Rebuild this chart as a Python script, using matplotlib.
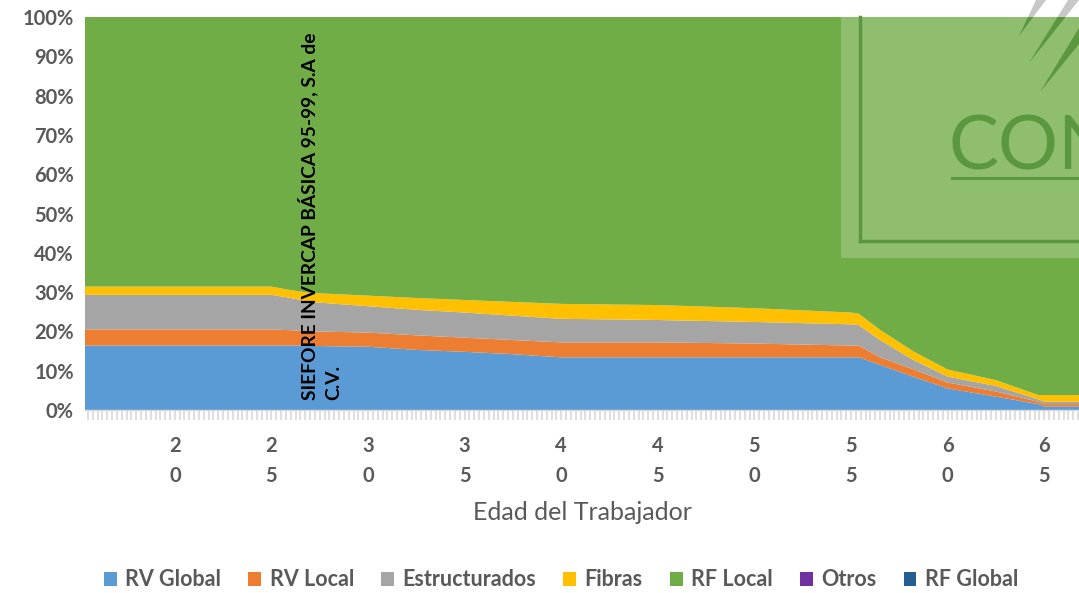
import matplotlib
matplotlib.use("Agg")
import matplotlib.pyplot as plt
from matplotlib.patches import Rectangle, Polygon
from matplotlib.ticker import MultipleLocator, FixedLocator, FuncFormatter
import numpy as np

# ---- data (percent of portfolio by worker age) ----
ages = [15.35, 25.0, 26.0, 27.0, 30.0, 32.5, 35.0, 37.5, 40.0, 45.0, 50.0,
        55.0, 55.4, 56.5, 58.2, 60.0, 62.5, 64.7, 65.0, 66.8]
rv_global = [16.4, 16.4, 16.4, 16.3, 16.1, 15.3, 14.8, 14.2, 13.4, 13.4, 13.4,
             13.4, 13.4, 11.5, 8.5, 5.5, 3.4, 1.5, 0.9, 0.9]
rv_local = [4.1, 4.1, 3.9, 3.7, 3.6, 3.7, 3.6, 3.6, 3.8, 3.8, 3.5,
            3.0, 3.0, 1.9, 1.9, 1.5, 1.3, 0.6, 0.6, 0.6]
estructurados = [8.8, 8.8, 8.2, 7.5, 6.7, 6.5, 6.4, 6.2, 6.0, 5.7, 5.5,
                 5.4, 5.2, 4.4, 2.4, 1.5, 1.4, 0.6, 0.6, 0.6]
fibras = [2.1, 2.1, 2.0, 2.3, 2.7, 3.0, 3.2, 3.5, 3.8, 3.8, 3.5,
          3.0, 2.9, 2.6, 2.2, 1.8, 1.5, 1.1, 1.7, 1.7]
otros = [0.0] * len(ages)
rf_global = [0.0] * len(ages)
rf_local = [100 - (a + b + c + d) for a, b, c, d in zip(rv_global, rv_local, estructurados, fibras)]

series_names = ["RV Global", "RV Local", "Estructurados", "Fibras", "RF Local", "Otros", "RF Global"]
series_colors = ["#5B9BD5", "#ED7D31", "#A5A5A5", "#FFC000", "#70AD47", "#7030A0", "#255E91"]
major_ticks = [20, 25, 30, 35, 40, 45, 50, 55, 60, 65]
y_ticks = [0, 10, 20, 30, 40, 50, 60, 70, 80, 90, 100]

annotation = "SIEFORE INVERCAP BÁSICA 95-99, S.A de\nC.V."
x_title = "Edad del Trabajador"

FONT = ["Lato", "DejaVu Sans"]
GRAY = "#595959"

W, H = 1079, 593
fig = plt.figure(figsize=(W / 100, H / 100), dpi=100)
ax = fig.add_axes([85 / W, 1 - 410 / H, (W - 85) / W, (410 - 17) / H])

data = [rv_global, rv_local, estructurados, fibras, rf_local, otros, rf_global]
ax.stackplot(ages, *data, colors=series_colors, labels=series_names, linewidth=0)

ax.set_xlim(15.35, 66.8)
ax.set_ylim(0, 100)

for s in ["top", "right", "left"]:
    ax.spines[s].set_visible(False)
ax.spines["bottom"].set_color("#D9D9D9")
ax.spines["bottom"].set_linewidth(1.0)

ax.xaxis.set_major_locator(FixedLocator(major_ticks))
ax.xaxis.set_minor_locator(MultipleLocator(0.25))
ax.xaxis.set_major_formatter(FuncFormatter(lambda v, p: "\n".join(str(int(round(v))))))
ax.tick_params(axis="x", which="both", length=7, width=1.2, color="#D9D9D9", pad=12)
ax.tick_params(axis="x", labelsize=14.5, labelcolor=GRAY)
for lab in ax.xaxis.get_majorticklabels():
    lab.set_fontweight("bold")
    lab.set_family(FONT)
    lab.set_linespacing(1.6)

ax.yaxis.set_major_locator(FixedLocator(y_ticks))
ax.yaxis.set_major_formatter(FuncFormatter(lambda v, p: f"{int(v)}%"))
ax.tick_params(axis="y", length=0, labelsize=14.5, labelcolor=GRAY, pad=8)
for lab in ax.yaxis.get_majorticklabels():
    lab.set_fontweight("bold")
    lab.set_family(FONT)

ax.set_xlabel(x_title, fontsize=18, color=GRAY, family=FONT, labelpad=11)

# watermark-like logo overlay
x0 = (841 - 85) / (W - 85)
y0 = (410 - 258) / (410 - 17)
ax.add_patch(Rectangle((x0, y0), 1 - x0, 1 - y0, transform=ax.transAxes,
                       facecolor="white", alpha=0.22, edgecolor="none", zorder=3))
def fx(px):
    return px / W
def fy(py):
    return 1 - py / H
lc = "#5A973F"
fig.add_artist(plt.Line2D([fx(860), fx(860)], [fy(17), fy(241)], color=lc, lw=2.5, zorder=4))
fig.add_artist(plt.Line2D([fx(860), fx(1079)], [fy(241), fy(241)], color=lc, lw=2.5, zorder=4))
con = ax.text(fx(949), fy(169), "CON", fontsize=54, color=lc, family=["Lato", "DejaVu Sans"],
              fontweight="normal", ha="left", va="baseline", zorder=4,
              transform=fig.transFigure, clip_on=True)
fig.add_artist(plt.Line2D([fx(952), fx(1079)], [fy(178), fy(178)], color=lc, lw=2.2, zorder=4))

strokes = [
    [(1036, 0), (1046, 0), (1019, 36)],
    [(1068, 0), (1079, 0), (1029, 63)],
    [(1079, 28), (1079, 44), (1040, 92)],
]
for pts in strokes:
    poly_pts = [(fx(x), fy(y)) for x, y in pts]
    pg = Polygon(poly_pts, closed=True, transform=fig.transFigure, facecolor=lc,
                 edgecolor="none", zorder=5)
    fig.add_artist(pg)
    pg.set_clip_path(Rectangle((fx(85), fy(410)), 1, fy(17) - fy(410), transform=fig.transFigure))
    pg2 = Polygon(poly_pts, closed=True, transform=fig.transFigure, facecolor="#C8C8C8",
                  edgecolor="none", zorder=5)
    fig.add_artist(pg2)
    pg2.set_clip_path(Rectangle((0, fy(17)), 1, 1, transform=fig.transFigure))

# rotated annotation
fig.text(fx(320), fy(400), annotation, rotation=90, ha="center", va="bottom",
         multialignment="left", fontsize=13.8, fontweight="bold", color="black",
         family=FONT, linespacing=1.45, zorder=6)

# legend
handles, labels = ax.get_legend_handles_labels()
leg = fig.legend(handles, labels, loc="center", bbox_to_anchor=(0.52, 1 - 580 / H), ncol=7,
                 frameon=False, handlelength=0.6, handleheight=0.6, handletextpad=0.4,
                 columnspacing=1.25, prop={"family": FONT, "weight": "bold", "size": 15.5})
for t in leg.get_texts():
    t.set_color(GRAY)

fig.savefig("out.png", dpi=100)
